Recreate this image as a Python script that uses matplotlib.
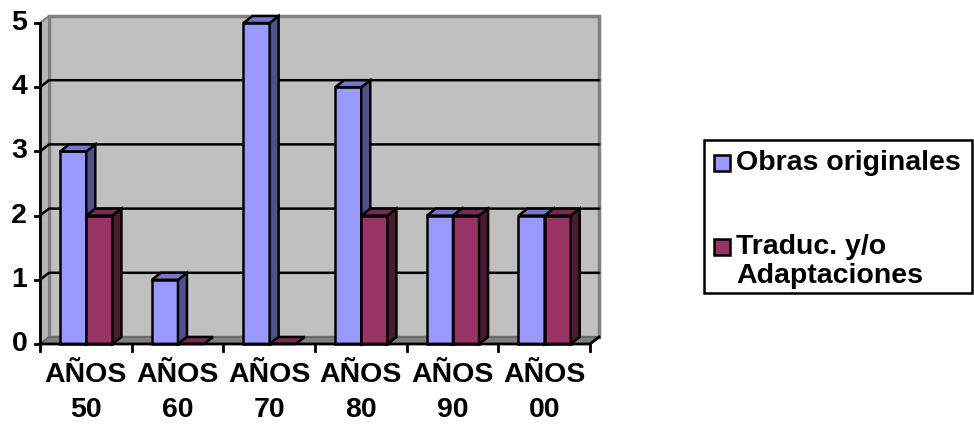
import matplotlib.pyplot as plt
from matplotlib.patches import Polygon, Rectangle

plt.rcParams['font.family'] = ['Liberation Sans', 'DejaVu Sans']

categories = ["AÑOS\n50", "AÑOS\n60", "AÑOS\n70", "AÑOS\n80", "AÑOS\n90", "AÑOS\n00"]
series_names = ["Obras originales", "Traduc. y/o\nAdaptaciones"]
obras = [3, 1, 5, 4, 2, 2]
traducciones = [2, 0, 0, 2, 2, 2]
y_ticks = [0, 1, 2, 3, 4, 5]

# face colours: front, side, top
face_colors = [("#9999FF", "#50508C", "#7777CC"),
               ("#993366", "#4C1A33", "#7A2952")]

W, H = 974, 425
FS = 20.5
fig = plt.figure(figsize=(W / 100, H / 100), dpi=100)
ax = fig.add_axes([40 / W, (H - 344) / H, 550 / W, 321 / H])
ax.set_xlim(0, len(categories))
ax.set_ylim(0, 5)
ax.axis("off")

# depth offset of the pseudo-3d box, in data units
n = len(categories)
ymax = y_ticks[-1]
DX = 9 / (550 / n)
DY = 7 / (321 / ymax)

# back wall, left wall, floor
ax.add_patch(Polygon([(DX, DY), (n + DX, DY), (n + DX, ymax + DY), (DX, ymax + DY)],
                     closed=True, facecolor="#C0C0C0", edgecolor="#808080", lw=2.5,
                     clip_on=False, zorder=1))
ax.add_patch(Polygon([(0, 0), (DX, DY), (DX, ymax + DY), (0, ymax)],
                     closed=True, facecolor="#B4B4B4", edgecolor="#808080", lw=1.5,
                     clip_on=False, zorder=1))
ax.add_patch(Polygon([(0, 0), (n, 0), (n + DX, DY), (DX, DY)],
                     closed=True, facecolor="#808080", edgecolor="#606060", lw=1,
                     clip_on=False, zorder=1))

# gridlines across left and back walls
for v in y_ticks[1:-1]:
    ax.plot([0, DX, n + DX], [v, v + DY, v + DY], color="black", lw=1.8,
            clip_on=False, zorder=2)

# bars: front face, right side, top
bw = 0.285
off = 0.22
for i in range(n):
    for j, vals in enumerate([obras, traducciones]):
        h = vals[i]
        front, side, top = face_colors[j]
        x0 = i + off + j * bw
        x1 = x0 + bw
        z = 3 + i * 2 + j
        if h > 0:
            ax.add_patch(Rectangle((x0, 0), bw, h, facecolor=front, edgecolor="black",
                                   lw=1.8, clip_on=False, zorder=z))
            ax.add_patch(Polygon([(x1, 0), (x1 + DX, DY), (x1 + DX, h + DY), (x1, h)],
                                 closed=True, facecolor=side, edgecolor="black", lw=1.8,
                                 clip_on=False, zorder=z))
        ax.add_patch(Polygon([(x0, h), (x1, h), (x1 + DX, h + DY), (x0 + DX, h + DY)],
                             closed=True, facecolor=top, edgecolor="black", lw=1.8,
                             clip_on=False, zorder=z))

# axis lines and ticks
ax.plot([0, 0], [0, ymax], color="black", lw=2, clip_on=False, zorder=20)
ax.plot([0, n, n + DX], [0, 0, DY], color="black", lw=2, clip_on=False, zorder=20)
tick_dx = 5 / (550 / n)
tick_dy = 7 / (321 / ymax)
for v in y_ticks:
    ax.plot([-tick_dx, 0], [v, v], color="black", lw=2, clip_on=False, zorder=20)
    ax.text(-0.14, v, str(v), ha="right", va="center", fontsize=FS,
            fontweight="bold")
for i in range(n + 1):
    ax.plot([i, i], [0, -tick_dy], color="black", lw=2, clip_on=False, zorder=20)

for i, lab in enumerate(categories):
    ax.text(i + 0.5, -0.75, lab, ha="center", va="center", fontsize=FS,
            fontweight="bold", linespacing=1.45)


# legend, laid out in figure pixels
def fx(px):
    return px / W


def fy(py):
    return 1 - py / H


fig.add_artist(Rectangle((fx(704), fy(293)), fx(268), 153 / H, transform=fig.transFigure,
                         facecolor="white", edgecolor="black", lw=1.8))
legend_rows = [163, 247]
for j, name in enumerate(series_names):
    cy = legend_rows[j]
    fig.add_artist(Rectangle((fx(714), fy(cy + 8)), fx(16), 16 / H,
                             transform=fig.transFigure, facecolor=face_colors[j][0],
                             edgecolor="black", lw=1.8))
    for k, line in enumerate(name.split("\n")):
        fig.text(fx(736), fy(cy + k * 29), line, ha="left", va="center",
                 fontsize=FS, fontweight="bold")

fig.savefig("out.png", dpi=100)
